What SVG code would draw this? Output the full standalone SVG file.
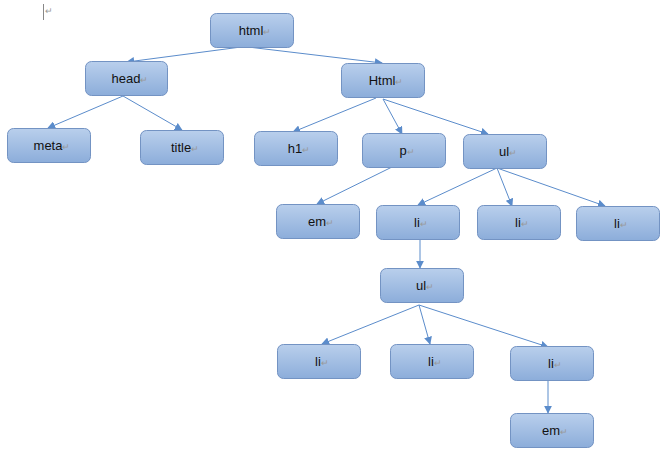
<svg xmlns="http://www.w3.org/2000/svg" width="669" height="458" viewBox="0 0 669 458">
<defs>
<linearGradient id="g" x1="0" y1="0" x2="0" y2="1">
<stop offset="0" stop-color="#b9cfec"/>
<stop offset="1" stop-color="#8cadda"/>
</linearGradient>
<marker id="a" viewBox="0 0 10 10" refX="9" refY="5" markerWidth="8" markerHeight="8" markerUnits="userSpaceOnUse" orient="auto">
<path d="M0,0 L10,5 L0,10 z" fill="#5b8ccb"/>
</marker>
<style>
.n rect{fill:url(#g);stroke:#7393c3;stroke-width:1}
.n text{font-family:"Liberation Sans",Arial,sans-serif;font-size:13px;fill:#111;text-anchor:middle}
.m{fill:#999;font-size:9px}
#edges line{stroke:#5b8ccb;stroke-width:1;marker-end:url(#a)}
</style>
</defs>
<rect width="669" height="458" fill="#fff"/>
<line x1="43.5" y1="4" x2="43.5" y2="20" stroke="#888" stroke-width="1"/>
<text x="45" y="14" font-family="Liberation Sans, sans-serif" font-size="9" fill="#999">↵</text>
<g id="edges">
<line x1="241" y1="47" x2="127" y2="62"/>
<line x1="248" y1="47" x2="382" y2="63"/>
<line x1="123" y1="96" x2="48" y2="128"/>
<line x1="123" y1="96" x2="182" y2="130"/>
<line x1="376" y1="98" x2="293" y2="132"/>
<line x1="383" y1="99" x2="402" y2="134"/>
<line x1="383" y1="99" x2="488" y2="134"/>
<line x1="392" y1="167" x2="317" y2="204"/>
<line x1="497" y1="168" x2="418" y2="205"/>
<line x1="497" y1="168" x2="512" y2="206"/>
<line x1="497" y1="168" x2="605" y2="206"/>
<line x1="420" y1="239" x2="420" y2="268"/>
<line x1="419" y1="305" x2="322" y2="344"/>
<line x1="419" y1="305" x2="430" y2="344"/>
<line x1="419" y1="305" x2="548" y2="347"/>
<line x1="548" y1="380" x2="548" y2="413"/>
</g>
<g id="n-html" class="n"><rect x="210.5" y="13.5" width="83" height="34" rx="6"/><text x="255" y="35">html<tspan class="m">↵</tspan></text></g>
<g id="n-head" class="n"><rect x="85.5" y="61.5" width="82" height="34" rx="6"/><text x="130" y="83">head<tspan class="m">↵</tspan></text></g>
<g id="n-Html" class="n"><rect x="341.5" y="63.5" width="83" height="34" rx="6"/><text x="386" y="85">Html<tspan class="m">↵</tspan></text></g>
<g id="n-meta" class="n"><rect x="7.5" y="128.5" width="83" height="34" rx="6"/><text x="52" y="150">meta<tspan class="m">↵</tspan></text></g>
<g id="n-title" class="n"><rect x="140.5" y="130.5" width="83" height="34" rx="6"/><text x="185" y="152">title<tspan class="m">↵</tspan></text></g>
<g id="n-h1" class="n"><rect x="254.5" y="131.5" width="83" height="34" rx="6"/><text x="299" y="153">h1<tspan class="m">↵</tspan></text></g>
<g id="n-p" class="n"><rect x="362.5" y="133.5" width="83" height="34" rx="6"/><text x="407" y="155">p<tspan class="m">↵</tspan></text></g>
<g id="n-ul" class="n"><rect x="463.5" y="134.5" width="83" height="34" rx="6"/><text x="508" y="156">ul<tspan class="m">↵</tspan></text></g>
<g id="n-em" class="n"><rect x="276.5" y="204.5" width="83" height="34" rx="6"/><text x="321" y="226">em<tspan class="m">↵</tspan></text></g>
<g id="n-li1" class="n"><rect x="376.5" y="205.5" width="83" height="34" rx="6"/><text x="421" y="227">li<tspan class="m">↵</tspan></text></g>
<g id="n-li2" class="n"><rect x="477.5" y="205.5" width="83" height="34" rx="6"/><text x="522" y="227">li<tspan class="m">↵</tspan></text></g>
<g id="n-li3" class="n"><rect x="576.5" y="206.5" width="83" height="34" rx="6"/><text x="621" y="228">li<tspan class="m">↵</tspan></text></g>
<g id="n-ul2" class="n"><rect x="380.5" y="268.5" width="83" height="34" rx="6"/><text x="425" y="290">ul<tspan class="m">↵</tspan></text></g>
<g id="n-li4" class="n"><rect x="277.5" y="344.5" width="83" height="34" rx="6"/><text x="322" y="366">li<tspan class="m">↵</tspan></text></g>
<g id="n-li5" class="n"><rect x="390.5" y="344.5" width="83" height="34" rx="6"/><text x="435" y="366">li<tspan class="m">↵</tspan></text></g>
<g id="n-li6" class="n"><rect x="510.5" y="346.5" width="83" height="34" rx="6"/><text x="555" y="368">li<tspan class="m">↵</tspan></text></g>
<g id="n-em2" class="n"><rect x="510.5" y="413.5" width="83" height="34" rx="6"/><text x="555" y="435">em<tspan class="m">↵</tspan></text></g>
</svg>
